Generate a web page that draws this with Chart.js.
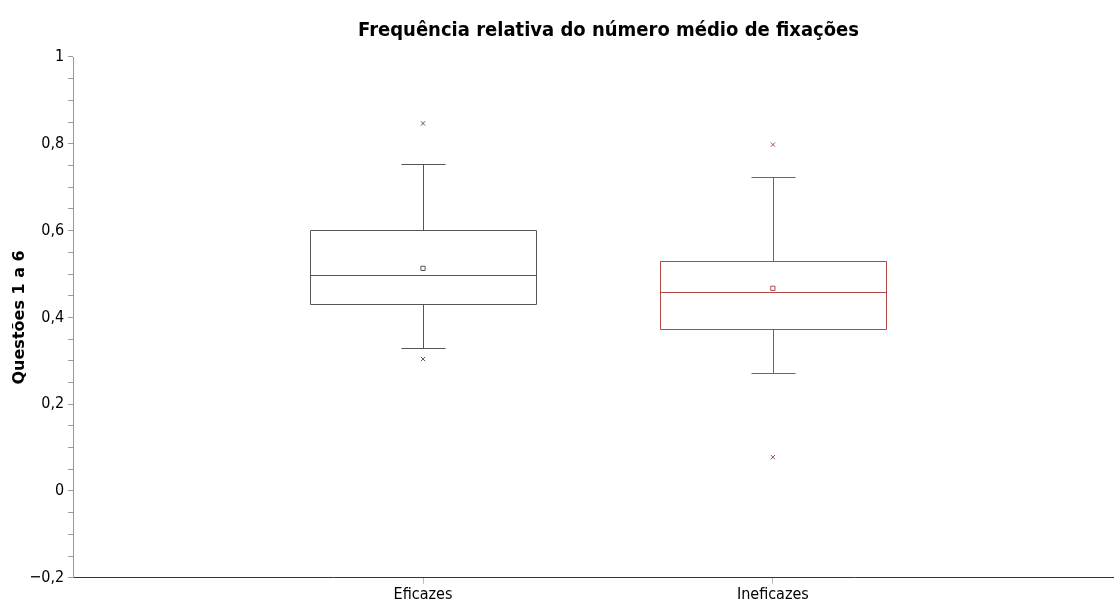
<!DOCTYPE html>
<html><head><meta charset="utf-8">
<script src="https://cdn.jsdelivr.net/npm/chart.js@4/dist/chart.umd.min.js"></script>
<style>html,body{margin:0;padding:0;background:#fff}#wrap{width:1114px;height:607px}</style>
</head><body><div id="wrap"><canvas id="c" width="1114" height="607"></canvas></div>
<script>
const titleText = 'Frequência relativa do número médio de fixações';
const yTitle = 'Questões 1 a 6';
const categories = ['Eficazes', 'Ineficazes'];
const colors = ['#555555', '#b04848'];
const whiskerLow = [0.329, 0.272];
const q1 = [0.431, 0.373];
const median = [0.497, 0.459];
const q3 = [0.601, 0.531];
const whiskerHigh = [0.754, 0.724];
const means = [0.513, 0.467];
const outliers = [[0.847, 0.304], [0.798, 0.078]];
const yTickLabels = ['\u22120,2', '0', '0,2', '0,4', '0,6', '0,8', '1'];

const boxPlugin = {
  id: 'boxes',
  beforeDatasetsDraw(chart) {
    const ctx = chart.ctx, xs = chart.scales.x, ys = chart.scales.y;
    const halfBox = Math.round(xs.getPixelForValue(1.323) - xs.getPixelForValue(1));
    const halfCap = Math.round(xs.getPixelForValue(1.063) - xs.getPixelForValue(1));
    const px = v => Math.round(ys.getPixelForValue(v)) + 0.5;
    categories.forEach((c, i) => {
      const cx = Math.round(xs.getPixelForValue(i + 1)) + 0.5;
      const yq1 = px(q1[i]), yq3 = px(q3[i]), ym = px(median[i]);
      const ylo = px(whiskerLow[i]), yhi = px(whiskerHigh[i]);
      ctx.save();
      ctx.strokeStyle = colors[i];
      ctx.lineWidth = 1;
      ctx.beginPath();
      ctx.moveTo(cx - halfBox, yq3); ctx.lineTo(cx + halfBox, yq3);
      ctx.lineTo(cx + halfBox, yq1); ctx.lineTo(cx - halfBox, yq1); ctx.closePath();
      ctx.moveTo(cx - halfBox, ym); ctx.lineTo(cx + halfBox, ym);
      ctx.moveTo(cx, yq3); ctx.lineTo(cx, yhi);
      ctx.moveTo(cx - halfCap, yhi); ctx.lineTo(cx + halfCap, yhi);
      ctx.moveTo(cx, yq1); ctx.lineTo(cx, ylo);
      ctx.moveTo(cx - halfCap, ylo); ctx.lineTo(cx + halfCap, ylo);
      ctx.stroke();
      ctx.restore();
    });
  },
  afterDraw(chart) {
    const ctx = chart.ctx, a = chart.chartArea;
    ctx.save();
    ctx.fillStyle = '#000';
    ctx.font = 'bold 20px "DejaVu Sans Condensed", "DejaVu Sans"';
    ctx.textAlign = 'center';
    ctx.textBaseline = 'middle';
    ctx.fillText(titleText, (a.left + a.right) / 2 + 15, 31);
    ctx.restore();
  }
};

const datasets = [];
categories.forEach((c, i) => {
  datasets.push({
    data: outliers[i].map(v => ({x: i + 1, y: v})),
    pointStyle: 'crossRot', radius: 3, borderColor: colors[i], borderWidth: 1, backgroundColor: colors[i]
  });
  datasets.push({
    data: [{x: i + 1, y: means[i]}],
    pointStyle: 'rect', radius: 3, borderColor: colors[i], borderWidth: 1, backgroundColor: '#fff'
  });
});

new Chart(document.getElementById('c'), {
  type: 'scatter',
  data: { datasets },
  plugins: [boxPlugin],
  options: {
    responsive: false, animation: false,
    layout: { autoPadding: false, padding: { left: 10, right: 0, top: 57, bottom: 2 } },
    plugins: { legend: { display: false }, tooltip: { enabled: false } },
    scales: {
      x: {
        type: 'linear', min: 0, max: 2.975,
        afterBuildTicks: s => { s.ticks = categories.map((c, i) => ({ value: i + 1 })); },
        ticks: { callback: v => categories[v - 1], color: '#000', font: { family: 'DejaVu Sans Condensed', size: 16 }, padding: 1 },
        grid: { drawOnChartArea: false, tickLength: 6, color: '#bbb' },
        border: { color: '#333', width: 1 }
      },
      y: {
        min: -0.2, max: 1,
        afterBuildTicks: s => { const t = []; for (let k = 0; k <= 24; k++) t.push({ value: -0.2 + k * 0.05 }); s.ticks = t; },
        ticks: {
          autoSkip: false, color: '#000', font: { family: 'DejaVu Sans Condensed', size: 16 }, padding: 4,
          callback: (v, idx) => idx % 4 === 0 ? yTickLabels[idx / 4] : ''
        },
        grid: { drawOnChartArea: false, tickLength: 5, color: '#999' },
        border: { color: '#999', width: 1 },
        title: { display: true, text: yTitle, color: '#000',
          font: { family: 'DejaVu Sans', size: 16, weight: 'bold' }, padding: { top: 0, bottom: -4 } }
      }
    }
  }
});
</script></body></html>
